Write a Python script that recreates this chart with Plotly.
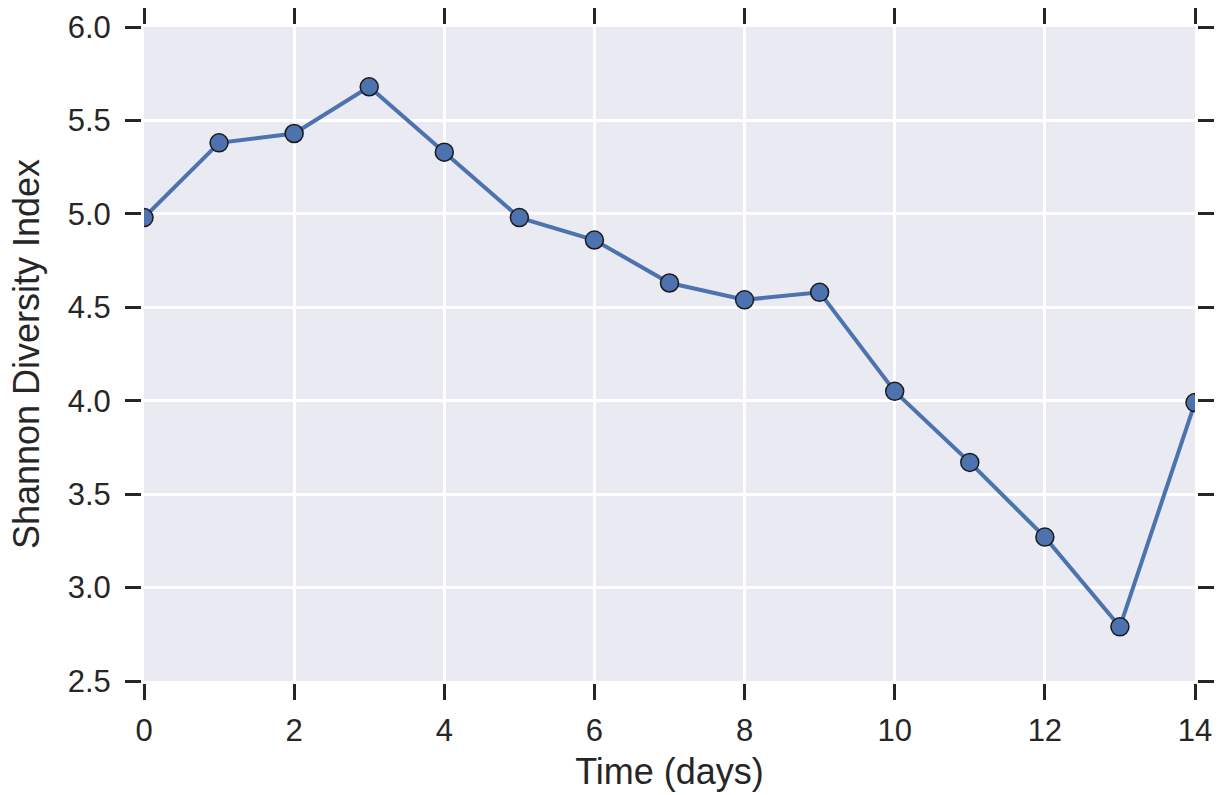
import plotly.graph_objects as go

# Daily Shannon diversity measurements
days = [0, 1, 2, 3, 4, 5, 6, 7, 8, 9, 10, 11, 12, 13, 14]
shannon = [4.98, 5.38, 5.43, 5.68, 5.33, 4.98, 4.86, 4.63, 4.54, 4.58,
           4.05, 3.67, 3.27, 2.79, 3.99]

x_ticks = [0, 2, 4, 6, 8, 10, 12, 14]
y_ticks = [2.5, 3.0, 3.5, 4.0, 4.5, 5.0, 5.5, 6.0]
y_ticklabels = [f"{v:.1f}" for v in y_ticks]

ink = "#262626"
font_family = "Liberation Sans, Arial, sans-serif"

fig = go.Figure(
    go.Scatter(
        x=days,
        y=shannon,
        mode="lines+markers",
        line=dict(color="#4C72B0", width=4),
        marker=dict(size=18, color="#4C72B0", line=dict(color="#1a1a1a", width=1.5)),
        cliponaxis=True,
        showlegend=False,
    )
)

axis_common = dict(
    showgrid=True,
    gridcolor="white",
    gridwidth=2.5,
    zeroline=False,
    showline=True,
    linecolor="white",
    linewidth=3,
    mirror="ticks",
    ticks="outside",
    ticklen=16,
    tickwidth=3,
    tickcolor=ink,
    automargin=False,
    tickfont=dict(family=font_family, size=31, color=ink),
    title_font=dict(family=font_family, size=36, color=ink),
)

fig.update_xaxes(
    range=[0, 14],
    tickvals=x_ticks,
    ticktext=[str(v) for v in x_ticks],
    title_text="Time (days)",
    title_standoff=12,
    ticklabelstandoff=4,
    **axis_common,
)
fig.update_yaxes(
    range=[2.5, 6.0],
    tickvals=y_ticks,
    ticktext=y_ticklabels,
    title_text="Shannon Diversity Index",
    title_standoff=18,
    ticklabelstandoff=8,
    **axis_common,
)

fig.update_layout(
    width=1223,
    height=795,
    margin=dict(l=144, r=28, t=27, b=114),
    plot_bgcolor="#EAEAF2",
    paper_bgcolor="white",
    font=dict(family=font_family, color=ink),
)

fig.write_html("out.html")
